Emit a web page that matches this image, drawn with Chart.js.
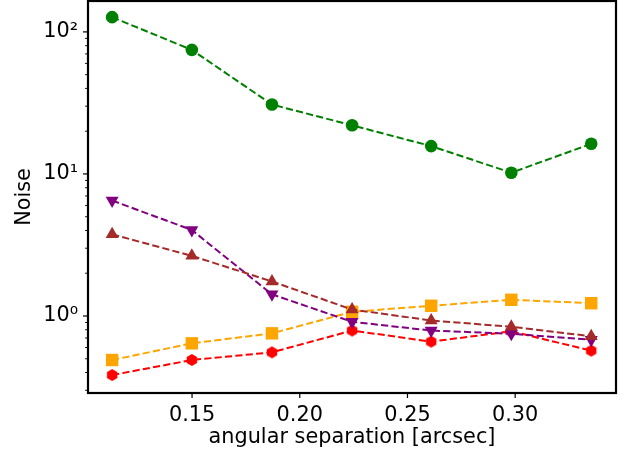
<!DOCTYPE html>
<html><head><meta charset="utf-8">
<script src="https://cdn.jsdelivr.net/npm/chart.js@4/dist/chart.umd.min.js"></script>
<style>html,body{margin:0;padding:0;background:#fff}#wrap{width:625px;height:459px}</style>
</head><body><div id="wrap"><canvas id="c" width="625" height="459"></canvas></div>
<script>
const separation = [0.1129, 0.1499, 0.1871, 0.2243, 0.2610, 0.2982, 0.3353];
const greenNoise  = [127, 74.7, 30.8, 22.0, 15.7, 10.2, 16.3];
const purpleNoise = [6.5, 4.03, 1.42, 0.91, 0.79, 0.75, 0.68];
const brownNoise  = [3.76, 2.65, 1.75, 1.11, 0.93, 0.84, 0.72];
const orangeNoise = [0.49, 0.642, 0.755, 1.07, 1.18, 1.30, 1.23];
const redNoise    = [0.384, 0.49, 0.555, 0.79, 0.66, 0.78, 0.57];
const xTicks = [0.15, 0.20, 0.25, 0.30];
const xTickLabels = ['0.15', '0.20', '0.25', '0.30'];
const yMajor = [1, 10, 100];
const yMajorLabels = ['10\u2070', '10\u00b9', '10\u00b2'];
const yMinor = [0.3,0.4,0.5,0.6,0.7,0.8,0.9,2,3,4,5,6,7,8,9,20,30,40,50,60,70,80,90];

const FONT = 'DejaVu Sans';
const FS = 20.8;
function pts(arr){ return separation.map((x,i)=>({x:x, y:arr[i]})); }
function hexagon(r, color){
  const c = document.createElement('canvas');
  const s = Math.ceil(2*r+2); c.width = s; c.height = s;
  const g = c.getContext('2d'); g.fillStyle = color; g.beginPath();
  for (let k=0;k<6;k++){ const a = Math.PI/2 + k*Math.PI/3; const px = s/2 + r*Math.cos(a), py = s/2 - r*Math.sin(a); k?g.lineTo(px,py):g.moveTo(px,py);} 
  g.closePath(); g.fill(); return c;
}
const dash = [7.2, 3.2];
function ds(label, arr, color, style, radius, rot){
  return {label, data: pts(arr), borderColor: color, backgroundColor: color, borderWidth: 2,
    borderDash: dash, pointStyle: style, pointRadius: radius, pointHoverRadius: radius,
    pointBorderWidth: 0, pointRotation: rot||0, tension: 0, fill: false};
}
const frame = {
  id: 'frame',
  afterDraw(chart){
    const {ctx, chartArea: a, scales} = chart;
    ctx.save();
    ctx.strokeStyle = '#000';
    ctx.lineWidth = 1.2;
    yMajor.forEach(v=>{ const y = scales.y.getPixelForValue(v); ctx.beginPath(); ctx.moveTo(a.left, y); ctx.lineTo(a.left-5, y); ctx.stroke(); });
    ctx.lineWidth = 0.9;
    yMinor.forEach(v=>{ const y = scales.y.getPixelForValue(v); ctx.beginPath(); ctx.moveTo(a.left, y); ctx.lineTo(a.left-3, y); ctx.stroke(); });
    ctx.lineWidth = 1.2;
    xTicks.forEach(v=>{ const x = scales.x.getPixelForValue(v); ctx.beginPath(); ctx.moveTo(x, a.bottom); ctx.lineTo(x, a.bottom+5); ctx.stroke(); });
    ctx.lineWidth = 2.2;
    ctx.strokeRect(a.left, a.top, a.right-a.left, a.bottom-a.top);
    ctx.restore();
  }
};
new Chart(document.getElementById('c'), {
  type: 'line',
  data: { datasets: [
    ds('brown', brownNoise, '#a52a2a', 'triangle', 7.5, 0),
    ds('purple', purpleNoise, '#800080', 'triangle', 7.5, 180),
    ds('orange', orangeNoise, '#ffa500', 'rect', 8.8, 0),
    ds('red', redNoise, '#ff0000', hexagon(6, '#ff0000'), 6, 0),
    ds('green', greenNoise, '#008000', 'circle', 6.3, 0)
  ]},
  options: {
    responsive: false, animation: false, events: [],
    layout: { autoPadding: false, padding: { top: 1, right: 9, left: 0, bottom: 0 } },
    plugins: { legend: { display: false }, tooltip: { enabled: false } },
    scales: {
      x: { type: 'linear', min: 0.1017, max: 0.3468,
        grid: { display: false, drawTicks: false }, border: { display: false },
        afterBuildTicks: s => { s.ticks = xTicks.map(v=>({value:v})); },
        afterFit: s => { s.height = 66; s.paddingLeft = 0; s.paddingRight = 0; },
        ticks: { color: '#000', font: { family: FONT, size: FS }, padding: 10, maxRotation: 0,
          callback: (v)=>{ const i = xTicks.indexOf(v); return i>=0 ? xTickLabels[i] : ''; } },
        title: { display: true, text: 'angular separation [arcsec]', color: '#000', font: { family: FONT, size: FS }, padding: { top: 0, bottom: 8.5 } }
      },
      y: { type: 'logarithmic', min: 0.287, max: 165,
        grid: { display: false, drawTicks: false }, border: { display: false },
        afterBuildTicks: s => { s.ticks = yMajor.map(v=>({value:v})); },
        afterFit: s => { s.width = 88; s.paddingTop = 0; s.paddingBottom = 0; },
        ticks: { color: '#000', font: { family: FONT, size: FS, lineHeight: 0.05 }, padding: 10,
          callback: (v)=>{ const i = yMajor.indexOf(v); return i>=0 ? yMajorLabels[i] : ''; } },
        title: { display: true, text: 'Noise', color: '#000', font: { family: FONT, size: FS }, padding: { top: 12, bottom: 0 } }
      }
    }
  },
  plugins: [frame]
});
</script></body></html>
